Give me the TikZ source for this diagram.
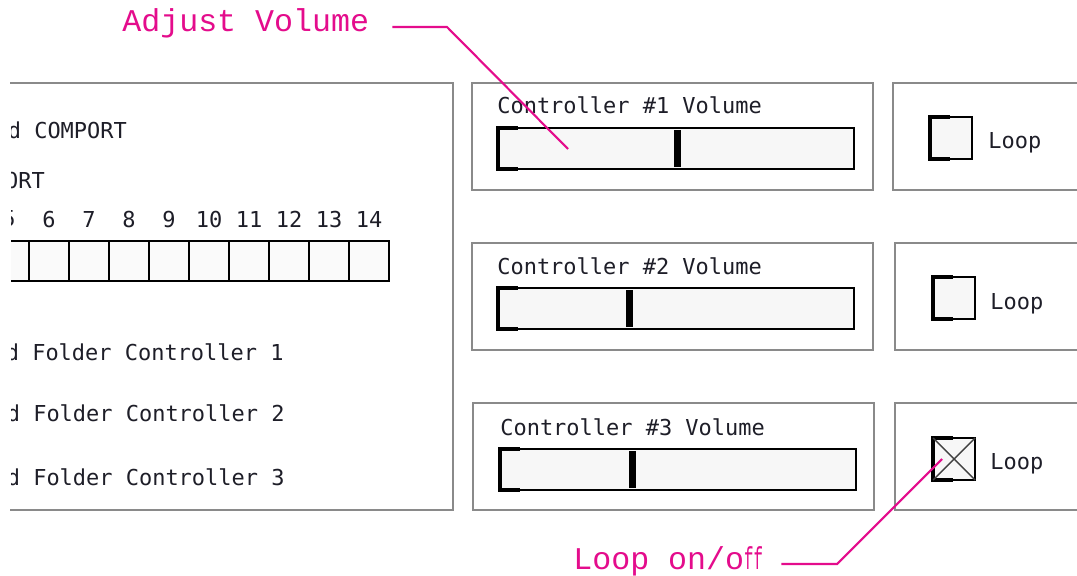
\documentclass[tikz,border=0pt]{standalone}
\usepackage{fontspec}
\usepackage{xcolor}
\setmonofont{DejaVu Sans Mono}
\newfontfamily\notefont{Liberation Mono}

\definecolor{notepink}{RGB}{228,12,140}
\definecolor{panelgray}{RGB}{138,138,138}
\definecolor{uitext}{RGB}{30,30,40}

% one volume slider: left x, top y, handle x
\newcommand\volslider[3]{%
  \draw[line width=1.1pt, fill=black!3] (#1,#2) rectangle ++(356,41);
  \draw[line width=2.2pt] (#1+20,#2) -- (#1,#2) -- (#1,#2+41) -- (#1+20,#2+41);
  \fill (#3-3.5,#2+2) rectangle (#3+3.5,#2+39);
}
% one loop check box: left x, top y
\newcommand\loopbox[2]{%
  \draw[line width=1.1pt, fill=black!3] (#1,#2) rectangle ++(42,42);
  \draw[line width=2.2pt] (#1+20,#2) -- (#1,#2) -- (#1,#2+42) -- (#1+20,#2+42);
}

\begin{document}
\begin{tikzpicture}[x=0.02cm, y=-0.02cm,
    panel/.style={draw=panelgray, line width=1.1pt},
    ui/.style={font=\ttfamily\fontsize{12.5}{14}\selectfont, text=uitext, inner sep=0pt, anchor=west},
    note/.style={font=\notefont\fontsize{18}{20}\selectfont, text=notepink, inner sep=0pt, anchor=west},
    leader/.style={draw=notepink, line width=1.2pt}]
  \clip (0,0) rectangle (1077,575);
  \fill[white] (0,0) rectangle (1077,575);

  % Left panel (cut at the left edge)
  \draw[panel] (10,83) -- (453,83) -- (453,510) -- (10,510);
  \begin{scope}
    \clip (11,0) rectangle (460,575);
    \node[ui] (comport) at (7.5,130) {d COMPORT};
    \node[ui] (port) at (4.8,181) {ORT};
    \foreach \n [count=\i from 0] in {5,...,14} {
      \draw[line width=1.1pt, fill=black!2] (-11+40*\i,241) rectangle ++(40,40);
      \node[ui, anchor=center] (num\n) at (9+40*\i,219) {\n};
    }
    \node[ui] (fold1) at (5.5,352) {d Folder Controller 1};
    \node[ui] (fold2) at (6.5,413) {d Folder Controller 2};
    \node[ui] (fold3) at (6.5,477) {d Folder Controller 3};
  \end{scope}

  % Volume panels
  \draw[panel] (472,83) rectangle (873,190);
  \draw[panel] (472,243) rectangle (873,350);
  \draw[panel] (473,403) rectangle (874,510);
  \node[ui] (vol1) at (497,105) {Controller \#1 Volume};
  \node[ui] (vol2) at (497,266) {Controller \#2 Volume};
  \node[ui] (vol3) at (500,427) {Controller \#3 Volume};
  \volslider{498}{128}{677}
  \volslider{498}{288}{629}
  \volslider{500}{449}{632}

  % Loop panels (cut at the right edge)
  \draw[panel] (1090,83) -- (893,83) -- (893,190) -- (1090,190);
  \draw[panel] (1090,243) -- (895,243) -- (895,350) -- (1090,350);
  \draw[panel] (1090,403) -- (895,403) -- (895,510) -- (1090,510);
  \loopbox{930}{117}
  \loopbox{933}{277}
  \loopbox{933}{438}
  \draw[black!75, line width=0.8pt] (933,438) -- (975,480) (975,438) -- (933,480);
  \node[ui] (loop1) at (988,143) {Loop};
  \node[ui] (loop2) at (990,304) {Loop};
  \node[ui] (loop3) at (990,464) {Loop};

  % Notes
  \node[note] (adjust) at (122,23) {Adjust Volume};
  \coordinate (adjbend) at (447,27);
  \coordinate (adjtip) at (568,149);
  \draw[leader] (adjust.east) ++(23,4) -- (adjbend) -- (adjtip);

  \node[note] (loopnote) at (573,561) {Loop on/o\scalebox{0.5}[1]{ff}};
  \coordinate (loopbend) at (837,564);
  \coordinate (looptip) at (942,459);
  \draw[leader] (loopnote.east) ++(18,3) -- (loopbend) -- (looptip);
\end{tikzpicture}
\end{document}
